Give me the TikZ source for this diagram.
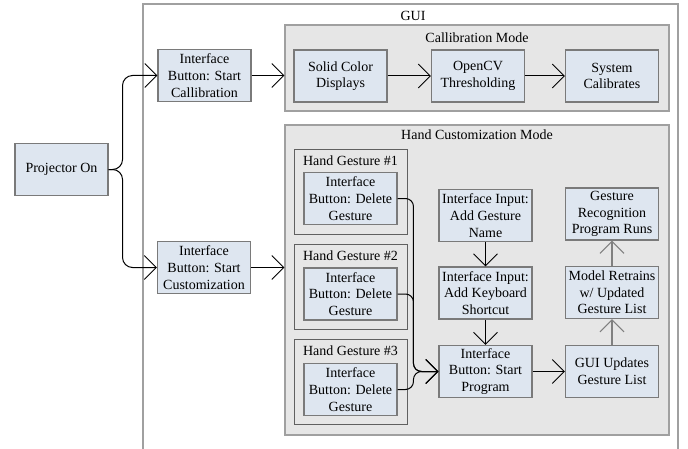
\documentclass[tikz,border=0pt]{standalone}
\usepackage{fontspec}
\setmainfont{Liberation Serif}
\usetikzlibrary{arrows.meta,calc}
\definecolor{boxfill}{HTML}{DEE6F0}
\definecolor{boxline}{HTML}{7A7A7A}
\definecolor{modefill}{HTML}{E6E6E6}
\definecolor{modeline}{HTML}{A0A0A0}
\definecolor{hgline}{HTML}{606060}
\begin{document}
\begin{tikzpicture}[x=0.75pt,y=-0.75pt,
  every node/.style={font=\fontsize{10.5}{12.5}\selectfont, inner sep=0pt},
  box/.style={draw=boxline, fill=boxfill, line width=0.8pt, align=center,
    minimum width=69.75pt, minimum height=39pt},
  modebox/.style={draw=modeline, fill=modefill, line width=0.8pt},
  hgbox/.style={draw=hgline, fill=modefill, line width=0.6pt,
    minimum width=84.75pt, minimum height=63.75pt},
  conn/.style={draw=black, line width=0.75pt,
    -{Straight Barb[length=9pt,width=18pt,line width=0.75pt]}},
  upconn/.style={draw=gray, line width=1pt,
    -{Straight Barb[length=9pt,width=18pt,line width=0.9pt]}}
]
\useasboundingbox (0,0) rectangle (688,449);
\clip (0,0) rectangle (688,449);
\fill[white] (0,0) rectangle (688,449);
% GUI container
\draw[modeline, line width=0.8pt] (143,470) -- (143,4) -- (678,4) -- (678,470);
\node (guilabel) at (413,16) {GUI};
% Calibration mode
\node[modebox, minimum width=288pt, minimum height=64.5pt] (calmode) at (477,68) {};
\node (callabel) at (477,38) {Callibration Mode};
\node[box] (solid) at (340.5,76) {Solid Color\\Displays};
\node[box] (opencv) at (478,76) {OpenCV\\Thresholding};
\node[box] (syscal) at (612,76) {System\\Calibrates};
% Hand customization mode
\node[modebox, minimum width=288pt, minimum height=232.5pt] (handmode) at (477,280) {};
\node (handlabel) at (477,135) {Hand Customization Mode};
\node[hgbox] (hg1) at (350.5,191.5) {};
\node[hgbox] (hg2) at (350.5,286.5) {};
\node[hgbox] (hg3) at (350.5,381.5) {};
\node (hg1l) at (350.5,161) {Hand Gesture \#1};
\node (hg2l) at (350.5,256) {Hand Gesture \#2};
\node (hg3l) at (350.5,351) {Hand Gesture \#3};
\node[box] (del1) at (350.5,198.5) {Interface\\Button: Delete\\Gesture};
\node[box] (del2) at (350.5,294) {Interface\\Button: Delete\\Gesture};
\node[box] (del3) at (350.5,389.5) {Interface\\Button: Delete\\Gesture};
\node[box] (name) at (485.5,215.5) {Interface Input:\\Add Gesture\\Name};
\node[box] (kbd) at (485.5,293) {Interface Input:\\Add Keyboard\\Shortcut};
\node[box] (start) at (485.5,371.5) {Interface\\Button: Start\\Program};
\node[box] (grec) at (612,214) {Gesture\\Recognition\\Program Runs};
\node[box] (model) at (612,292.5) {Model Retrains\\w/ Updated\\Gesture List};
\node[box] (gupd) at (612,371.5) {GUI Updates\\Gesture List};
% Left side
\node[box] (proj) at (61.5,169.5) {Projector On};
\node[box] (calbtn) at (204.5,75.5) {Interface\\Button: Start\\Callibration};
\node[box] (custbtn) at (204,267.5) {Interface\\Button: Start\\Customization};
% Connectors
\draw[conn, rounded corners=7.5pt] (proj.east) -- ++(14,0) |- (calbtn.west);
\draw[conn, rounded corners=7.5pt] (proj.east) -- ++(14,0) |- (custbtn.west);
\draw[conn] (calbtn.east) -- (calbtn.east -| calmode.west);
\draw[conn] (custbtn.east) -- (custbtn.east -| handmode.west);
\draw[conn] (solid) -- (opencv);
\draw[conn] (opencv) -- (syscal);
\coordinate (j) at ([xshift=-18.75pt]start.west);
\draw[conn, rounded corners=6pt] (del1.east) -| (j) -- (start.west);
\draw[conn, rounded corners=6pt] (del2.east) -| (j) -- (start.west);
\draw[conn, rounded corners=6pt] (del3.east) -| (j) -- (start.west);
\draw[conn] (name) -- (kbd);
\draw[conn] (kbd) -- (start);
\draw[conn] (start) -- (gupd);
\draw[upconn] (gupd) -- (model);
\draw[upconn] (model) -- (grec);
\end{tikzpicture}
\end{document}
